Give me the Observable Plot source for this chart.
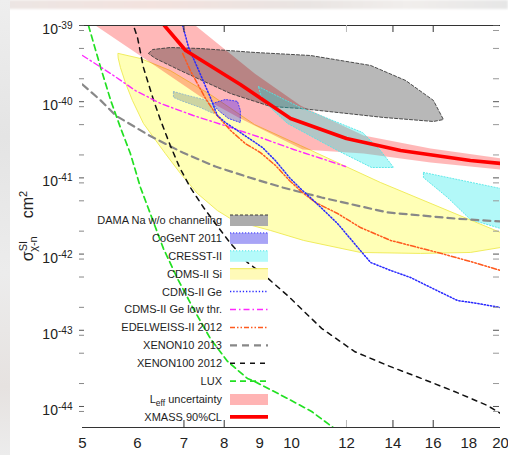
<!DOCTYPE html>
<html><head><meta charset="utf-8">
<script src="https://cdn.jsdelivr.net/npm/d3@7"></script>
<script src="https://cdn.jsdelivr.net/npm/@observablehq/plot@0.6"></script>
<style>
html,body{margin:0;padding:0;background:#fff;}
#wrap{position:relative;width:508px;height:455px;overflow:hidden;background:#fff;}
#bgtop{position:absolute;left:0;top:0;width:508px;height:9px;background:linear-gradient(90deg,#ece6e4,#f3e2de 30%,#e9e4e2 60%,#f1eeec 80%,#e6e6e6);filter:blur(1px);}
#bgleft{position:absolute;left:0;top:0;width:10px;height:455px;background:linear-gradient(180deg,#eeeeee,#e4e4e4 30%,#ececec 60%,#e6e2e0 85%,#ececec);}
#chart{position:absolute;left:0;top:0;}
svg text{font-family:"Liberation Sans",Arial,sans-serif;}
</style></head><body>
<div id="wrap"><div id="bgtop"></div><div id="bgleft"></div><div id="chart"></div></div>
<script>
// ---- axis / tick values ----
const massTicks = [5, 6, 7, 8, 9, 10, 12, 14, 16, 18, 20];
const innerTicks = [7, 8, 14, 16];
const faintTicks = [12];
const sigmaDecades = [1e-39, 1e-40, 1e-41, 1e-42, 1e-43, 1e-44];
const minorFactors = [2, 0.86, 0.5];

// ---- regions (mass GeV, sigma cm^2) ----
const cdmsSi = [[5.63,4.30e-40],[6.06,3.69e-40],[6.69,2.56e-40],[7.64,1.24e-40],[8.85,5.0e-41],[10.30,2.66e-41],[13.43,8.71e-42],[20,1.92e-42],
  [20,1.22e-42],[18.10,1.05e-42],[15.34,1.02e-42],[12.57,1.05e-42],[10.41,1.51e-42],[9.33,2.04e-42],[8.25,2.76e-42],[7.82,3.73e-42],
  [7.32,6.24e-42],[6.92,1.14e-41],[6.58,2.09e-41],[6.33,3.39e-41],[6.12,5.18e-41],[5.90,1.04e-40],[5.77,1.73e-40],[5.67,2.81e-40],[5.63,3.69e-40]];
const leffBand = [[5.22,1e-39],[7.27,1e-39],[8.85,2.34e-40],[10.30,8.91e-41],[12.70,3.60e-41],[15.86,2.43e-41],[20,1.80e-41],
  [20,1.29e-41],[15.86,1.59e-41],[12.70,2.09e-41],[10.37,2.36e-41],[8.44,6.03e-41],[7.39,1.17e-40],[6.26,3.27e-40]];
const dama = [[6.22,4.30e-40],[6.31,4.84e-40],[6.69,5.14e-40],[7.39,4.99e-40],[8.85,4.43e-40],[10.65,4.04e-40],[13.0,2.99e-40],
  [14.60,1.90e-40],[16.01,1.04e-40],[16.55,5.83e-41],[16.01,5.50e-41],[13.57,6.21e-41],[10.30,8.15e-41],[9.33,8.65e-41],
  [8.17,1.28e-40],[6.92,2.56e-40],[6.37,3.69e-40]];
const cresstM2 = [[8.96,1.58e-40],[10.30,8.39e-41],[12.66,3.94e-41],[13.43,2.29e-41],[14.03,1.37e-41],[13.04,1.37e-41],
  [11.65,2.29e-41],[9.87,5.18e-41],[9.08,1.04e-40]];
const cresstM1 = [[15.49,1.18e-41],[20,7.26e-42],[20,2.17e-42],[18.10,2.84e-42],[16.78,5.53e-42],[15.49,1.01e-41]];
const cresstLow = [[6.76,1.36e-40],[7.08,1.21e-40],[7.57,1.04e-40],[7.77,8.15e-41],[7.72,7.00e-41],[7.39,8.39e-41],[6.92,1.04e-40],[6.76,1.14e-40]];
const cogent = [[7.69,9.46e-41],[8.03,1.07e-40],[8.36,1.01e-40],[8.44,7.67e-41],[8.44,5.33e-41],[8.11,6.03e-41],[7.85,7.67e-41]];

// ---- limit curves ----
const cdmsGe = [[6.97,1e-39],[7.11,5.14e-40],[7.32,2.81e-40],[7.64,1.14e-40],[7.82,6.59e-41],[8.03,5.33e-41],[8.44,3.94e-41],
  [9.08,2.51e-41],[9.48,1.69e-41],[9.93,1.01e-41],[10.37,6.84e-42],[10.76,5.05e-42],[11.65,2.52e-42],[12.57,1.11e-42],
  [13.0,7.76e-43],[13.89,6.10e-43],[14.84,4.93e-43],[15.86,3.65e-43],[17.34,2.46e-43],[18.52,2.25e-43],[20,1.99e-43]];
const cdmsGeLow = [[5,4.04e-40],[5.49,2.34e-40],[5.96,1.40e-40],[6.48,9.46e-41],[7.22,6.59e-41],[8.09,4.73e-41],[9.02,3.39e-41],
  [10.07,2.36e-41],[11.27,1.69e-41],[11.96,1.41e-41]];
const edelweiss = [[6.97,4.30e-40],[7.15,2.56e-40],[7.32,1.73e-40],[7.52,1.10e-40],[7.77,7.00e-41],[8.17,4.19e-41],[8.58,2.82e-41],
  [9.02,2.15e-41],[9.48,1.46e-41],[9.93,9.25e-42],[10.37,6.43e-42],[10.83,4.75e-42],[11.65,3.41e-42],[12.57,2.23e-42],
  [13.89,1.51e-42],[16.23,1.05e-42],[18.10,8.00e-43],[20,6.10e-43]];
const xenon10 = [[5,1.68e-40],[5.31,1.04e-40],[5.58,6.59e-41],[6.24,3.60e-41],[6.97,2.15e-41],[7.77,1.41e-41],[8.70,1.01e-41],
  [9.71,7.48e-42],[11.05,5.53e-42],[13.75,3.52e-42],[17.17,2.93e-42],[20,2.68e-42]];
const xenon100 = [[5.94,9.14e-40],[6.00,6.97e-40],[6.12,2.81e-40],[6.33,1.04e-40],[6.48,5.66e-41],[6.69,2.66e-41],[6.90,1.37e-41],
  [7.15,7.48e-42],[7.47,4.09e-42],[7.77,2.52e-42],[8.17,1.38e-42],[8.64,7.76e-43],[9.08,5.56e-43],[9.87,2.86e-43],[11.05,1.06e-43],
  [12.32,5.27e-44],[13.75,3.45e-44],[15.39,2.33e-44],[17.17,1.57e-44],[19.15,1.03e-44],[20,8.09e-45]];
const lux = [[5.10,1e-39],[5.31,2.81e-40],[5.49,1.04e-40],[5.67,4.58e-41],[5.86,2.09e-41],[6.06,7.48e-42],[6.26,3.41e-42],
  [6.54,1.18e-42],[6.85,4.79e-43],[7.22,1.93e-43],[7.64,7.80e-44],[8.09,3.90e-44],[8.64,2.33e-44],[8.85,2.13e-44],[9.87,1.27e-44],
  [10.69,8.59e-45],[11.53,5.14e-45]];
const xmass = [[6.56,1.0e-39],[7.04,4.7e-40],[8.44,1.68e-40],[9.97,6.03e-41],[12.0,3.29e-41],[14.36,2.29e-41],[18.1,1.69e-41],[20,1.55e-41]];

// ---- legend ----
const legendLabels = ["DAMA Na w/o channeling","CoGeNT 2011","CRESST-II","CDMS-II Si","CDMS-II Ge","CDMS-II Ge low thr.",
  "EDELWEISS-II 2012","XENON10 2013","XENON100 2012","LUX","L_eff uncertainty","XMASS 90%CL"];

// translucent fills (colour + opacity) so overlaps darken like the original
const S = {
  dama:{fill:"#000000", op:0.28, stroke:"#3a3a3a", dash:"3,2", box:"#acacac"},
  cogent:{fill:"#2800ff", op:0.32, stroke:"#3030ff", dash:"1.2,1.8", box:"#a8a4f6"},
  cresst:{fill:"#00e8e8", op:0.30, stroke:"#4fe6e6", dash:"1.2,1.8", box:"#b4fafa"},
  si:{fill:"#ffffb6", op:1, stroke:"#eeea50", box:"#fffab8"},
  leff:{fill:"#ff0000", op:0.28, box:"#ffb4b4"},
  ge:{stroke:"#2828ff", dash:"1.3,1.9", w:1.5},
  geLow:{stroke:"#ff28ff", dash:"6,3,1.5,3", w:1.4},
  edw:{stroke:"#ff5a1e", dash:"5,2,1.5,2,1.5,2", w:1.5},
  x10:{stroke:"#888888", dash:"7,5", w:2.2},
  x100:{stroke:"#111111", dash:"5,5", w:1.5},
  lux:{stroke:"#22e022", dash:"6,4", w:1.7},
  xmass:{stroke:"#ff0000", w:3.6}
};

const yMin = Math.pow(10, -44.276), yMax = 1e-39;
const P = d => d[0], Q = d => d[1];
const region = (data, s, o = {}) => Plot.line(data, {x: P, y: Q, curve: "linear-closed", clip: true,
  fill: s.fill, fillOpacity: s.op, stroke: s.stroke || "none", strokeWidth: 0.9, strokeDasharray: s.dash, ...o});
const curve = (data, s) => Plot.line(data, {x: P, y: Q, clip: true, stroke: s.stroke, strokeWidth: s.w,
  strokeDasharray: s.dash, strokeLinejoin: "round"});

const minorTicks = [];
sigmaDecades.forEach(v => minorFactors.forEach(f => { const t = v * f; if (t >= yMin && t <= yMax) minorTicks.push(t); }));

const chart = Plot.plot({
  width: 508, height: 455,
  marginLeft: 82, marginRight: 8, marginTop: 25, marginBottom: 28,
  style: {background: "transparent", overflow: "visible"},
  x: {type: "log", domain: [5, 20], axis: null},
  y: {type: "log", domain: [yMin, yMax], axis: null},
  marks: [
    region(cdmsSi, S.si),
    region(leffBand, S.leff),
    region(dama, S.dama),
    region(cresstM2, S.cresst),
    region(cresstM1, S.cresst),
    region(cresstLow, {fill: "#4a6470", op: 0.28, stroke: "#8fb6c8", dash: "1.2,1.8"}),
    region(cogent, S.cogent),
    curve(xenon10, S.x10),
    curve(xenon100, S.x100),
    curve(lux, S.lux),
    curve(cdmsGeLow, S.geLow),
    curve(edelweiss, S.edw),
    curve(cdmsGe, S.ge),
    curve(xmass, S.xmass),
    // axes
    Plot.ruleY([yMin, yMax], {stroke: "#333", strokeWidth: 1}),
    Plot.tickX(innerTicks, {x: d => d, insetTop: 395, stroke: "#333"}),
    Plot.tickX(innerTicks, {x: d => d, insetBottom: 395, stroke: "#333"}),
    Plot.tickX(faintTicks, {x: d => d, insetTop: 395, stroke: "#bbb"}),
    Plot.tickX(faintTicks, {x: d => d, insetBottom: 395, stroke: "#bbb"}),
    Plot.tickY(sigmaDecades, {y: d => d, insetRight: 413, dx: -3, stroke: "#555"}),
    Plot.tickY(minorTicks, {y: d => d, insetRight: 413, dx: -3, stroke: "#888"}),
    Plot.tickY(sigmaDecades, {y: d => d, insetLeft: 412, dx: -1, stroke: "#555"}),
    Plot.tickY(minorTicks, {y: d => d, insetLeft: 412, dx: -1, stroke: "#999"}),
    Plot.text(massTicks, {x: d => d, frameAnchor: "bottom", dy: 20, text: d => String(d), fontSize: 15, fill: "#222"}),
    Plot.text(sigmaDecades, {y: d => d, frameAnchor: "left", dx: -10, dy: 4, textAnchor: "end", fontSize: 14, fill: "#222",
      text: d => "E" + String(Math.round(Math.log10(d)))})
  ]
});
document.getElementById("chart").appendChild(chart);

const svg = d3.select(chart);
// superscripts on y tick labels
svg.selectAll("text").filter(function () { return /^E-\d+$/.test(this.textContent); }).each(function () {
  const t = this.textContent.slice(1);
  const s = d3.select(this);
  s.text("10");
  s.append("tspan").attr("dy", "-0.5em").attr("font-size", "0.72em").text(t);
});

// y axis title
const lab = svg.append("text").attr("transform", "translate(33,226) rotate(-90)")
  .attr("text-anchor", "middle").attr("font-size", 16).attr("fill", "#222");
lab.append("tspan").text("σ");
lab.append("tspan").attr("font-size", 11).attr("dy", -6).text("SI");
lab.append("tspan").attr("font-size", 11).attr("dx", -11).attr("dy", 10).text("χ-n");
lab.append("tspan").attr("dx", 18).attr("dy", -4).text("cm");
lab.append("tspan").attr("font-size", 11).attr("dy", -6).text("2");

// legend
const lg = svg.append("g");
const rowY = i => 220 + i * 17.9;
const sx0 = 230, sx1 = 268, tx = 222;
const kinds = [
  {box: S.dama}, {box: S.cogent}, {box: S.cresst}, {box: S.si},
  {line: S.ge}, {line: S.geLow}, {line: S.edw}, {line: S.x10}, {line: S.x100}, {line: S.lux},
  {box: S.leff}, {line: S.xmass}
];
legendLabels.forEach((lbl, i) => {
  const y = rowY(i);
  const t = lg.append("text").attr("x", tx).attr("y", y).attr("dy", "0.36em").attr("text-anchor", "end")
    .attr("font-size", 11).attr("fill", "#1e1e1e");
  if (lbl.startsWith("L_eff")) {
    t.append("tspan").text("L");
    t.append("tspan").attr("font-size", 8.5).attr("dy", 3).text("eff");
    t.append("tspan").attr("dy", -3).text(" uncertainty");
  } else t.text(lbl);
  const k = kinds[i];
  if (k.box) {
    lg.append("rect").attr("x", sx0).attr("y", y - 5).attr("width", sx1 - sx0).attr("height", 11)
      .attr("fill", k.box.box);
    if (k.box.stroke) lg.append("line").attr("x1", sx0).attr("x2", sx1).attr("y1", y - 5).attr("y2", y - 5)
      .attr("stroke", k.box.stroke).attr("stroke-width", 1).attr("stroke-dasharray", k.box.dash || null);
  } else {
    lg.append("line").attr("x1", sx0).attr("x2", sx1).attr("y1", y).attr("y2", y)
      .attr("stroke", k.line.stroke).attr("stroke-width", k.line.w).attr("stroke-dasharray", k.line.dash || null);
  }
});
</script></body></html>
